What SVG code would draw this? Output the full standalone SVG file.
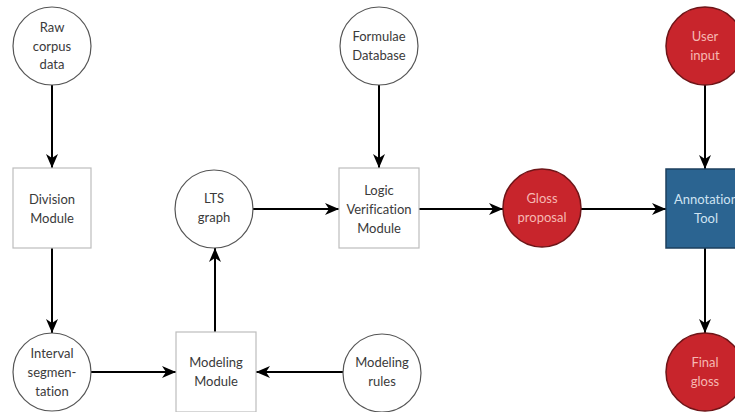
<svg xmlns="http://www.w3.org/2000/svg" width="735" height="412" viewBox="0 0 735 412">
<style>
  .circ { fill: #ffffff; stroke: #555555; stroke-width: 1.2; }
  .box { fill: #ffffff; stroke: #bdbdbd; stroke-width: 1.2; }
  .red { fill: #c8252c; stroke: #6e1518; stroke-width: 1.5; }
  .blue { fill: #2b6491; stroke: #1c3f5e; stroke-width: 1.5; }
  text { font-family: Lato, "Open Sans", "DejaVu Sans", sans-serif; font-size: 13px; text-anchor: middle; fill: #3a3a3a; font-variant-ligatures: none; }
  .lt { fill: #f6b8b2; }
  .lb { fill: #cfe3f2; }
  .edge { stroke: #000000; stroke-width: 2; fill: none; marker-end: url(#arr); }
</style>
<defs>
  <marker id="arr" markerUnits="userSpaceOnUse" markerWidth="16" markerHeight="12" refX="14" refY="6" orient="auto">
    <path d="M0,0 L14,6 L0,12 L4,6 z" fill="#000000"/>
  </marker>
</defs>
<rect width="735" height="412" fill="#ffffff"/>
<g id="connectors">
  <line class="edge" x1="52" y1="85" x2="52" y2="168"/>
  <line class="edge" x1="52" y1="248" x2="52" y2="333"/>
  <line class="edge" x1="91" y1="372" x2="176" y2="372"/>
  <line class="edge" x1="343" y1="372" x2="256" y2="372"/>
  <line class="edge" x1="215" y1="332" x2="215" y2="248"/>
  <line class="edge" x1="253" y1="209" x2="339" y2="209"/>
  <line class="edge" x1="379" y1="85" x2="379" y2="168"/>
  <line class="edge" x1="419" y1="209" x2="503" y2="209"/>
  <line class="edge" x1="581" y1="209" x2="666" y2="209"/>
  <line class="edge" x1="705" y1="85" x2="705" y2="169"/>
  <line class="edge" x1="705" y1="248" x2="705" y2="333"/>
</g>
<g id="raw-corpus-data">
  <circle class="circ" cx="52" cy="46" r="39"/>
  <text x="52" y="32">Raw</text>
  <text x="52" y="51">corpus</text>
  <text x="52" y="69">data</text>
</g>
<g id="division-module">
  <rect class="box" x="13" y="168" width="78" height="80"/>
  <text x="52" y="204">Division</text>
  <text x="52" y="223">Module</text>
</g>
<g id="interval-segmentation">
  <circle class="circ" cx="52" cy="372" r="39"/>
  <text x="52" y="358">Interval</text>
  <text x="52" y="377">segmen-</text>
  <text x="52" y="396">tation</text>
</g>
<g id="modeling-module">
  <rect class="box" x="176" y="332" width="80" height="80"/>
  <text x="216" y="367">Modeling</text>
  <text x="216" y="386">Module</text>
</g>
<g id="modeling-rules">
  <circle class="circ" cx="382" cy="373" r="39"/>
  <text x="382" y="367">Modeling</text>
  <text x="382" y="386">rules</text>
</g>
<g id="lts-graph">
  <circle class="circ" cx="214" cy="209" r="39"/>
  <text x="214" y="203">LTS</text>
  <text x="214" y="222">graph</text>
</g>
<g id="logic-verification-module">
  <rect class="box" x="339" y="168" width="80" height="80"/>
  <text x="379" y="195">Logic</text>
  <text x="379" y="214">Verification</text>
  <text x="379" y="233">Module</text>
</g>
<g id="formulae-database">
  <circle class="circ" cx="379" cy="46" r="39"/>
  <text x="379" y="41">Formulae</text>
  <text x="379" y="60">Database</text>
</g>
<g id="gloss-proposal">
  <circle class="red" cx="542" cy="208" r="39"/>
  <text class="lt" x="542" y="203">Gloss</text>
  <text class="lt" x="542" y="222">proposal</text>
</g>
<g id="annotation-tool">
  <rect class="blue" x="666" y="169" width="80" height="79"/>
  <text class="lb" x="706" y="204">Annotation</text>
  <text class="lb" x="706" y="223">Tool</text>
</g>
<g id="user-input">
  <circle class="red" cx="705" cy="46" r="39"/>
  <text class="lt" x="705" y="41">User</text>
  <text class="lt" x="705" y="60">input</text>
</g>
<g id="final-gloss">
  <circle class="red" cx="705" cy="372" r="39"/>
  <text class="lt" x="705" y="367">Final</text>
  <text class="lt" x="705" y="386">gloss</text>
</g>
</svg>
